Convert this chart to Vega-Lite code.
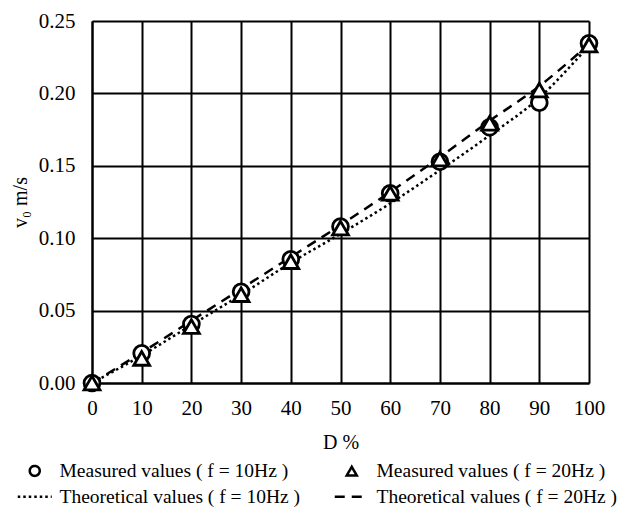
{
  "$schema": "https://vega.github.io/schema/vega-lite/v6.json",
  "width": 497,
  "height": 362,
  "autosize": {"type": "none"},
  "padding": {"left": 92, "top": 21, "right": 47, "bottom": 128},
  "background": "white",
  "config": {
    "font": "Liberation Serif",
    "view": {"stroke": null},
    "axis": {
      "domainColor": "black",
      "domainWidth": 2,
      "grid": true,
      "gridColor": "black",
      "gridWidth": 2,
      "gridOpacity": 1,
      "ticks": false,
      "labelFlush": false,
      "labelFont": "Liberation Serif",
      "labelFontSize": 21,
      "labelColor": "black",
      "titleFont": "Liberation Serif",
      "titleFontSize": 20,
      "titleFontWeight": "normal",
      "titleColor": "black"
    },
    "legend": {
      "orient": "none",
      "legendX": -67,
      "legendY": 440,
      "direction": "horizontal",
      "columns": 2,
      "columnPadding": 28,
      "rowPadding": 5,
      "labelFont": "Liberation Serif",
      "labelFontSize": 19.5,
      "labelColor": "black",
      "labelOffset": 15,
      "labelLimit": 400,
      "symbolSize": 100,
      "symbolStrokeWidth": 2.5,
      "symbolStrokeColor": "black",
      "symbolFillColor": "white"
    }
  },
  "datasets": {
    "measured": [
      {"D": 0, "v": 0.0, "series": "Measured values ( f = 10Hz )"},
      {"D": 10, "v": 0.0205, "series": "Measured values ( f = 10Hz )"},
      {"D": 20, "v": 0.0407, "series": "Measured values ( f = 10Hz )"},
      {"D": 30, "v": 0.063, "series": "Measured values ( f = 10Hz )"},
      {"D": 40, "v": 0.0854, "series": "Measured values ( f = 10Hz )"},
      {"D": 50, "v": 0.108, "series": "Measured values ( f = 10Hz )"},
      {"D": 60, "v": 0.131, "series": "Measured values ( f = 10Hz )"},
      {"D": 70, "v": 0.1528, "series": "Measured values ( f = 10Hz )"},
      {"D": 80, "v": 0.1766, "series": "Measured values ( f = 10Hz )"},
      {"D": 90, "v": 0.1936, "series": "Measured values ( f = 10Hz )"},
      {"D": 100, "v": 0.2346, "series": "Measured values ( f = 10Hz )"},
      {"D": 0, "v": 0.0, "series": "Measured values ( f = 20Hz )"},
      {"D": 10, "v": 0.017, "series": "Measured values ( f = 20Hz )"},
      {"D": 20, "v": 0.039, "series": "Measured values ( f = 20Hz )"},
      {"D": 30, "v": 0.061, "series": "Measured values ( f = 20Hz )"},
      {"D": 40, "v": 0.0838, "series": "Measured values ( f = 20Hz )"},
      {"D": 50, "v": 0.107, "series": "Measured values ( f = 20Hz )"},
      {"D": 60, "v": 0.131, "series": "Measured values ( f = 20Hz )"},
      {"D": 70, "v": 0.1547, "series": "Measured values ( f = 20Hz )"},
      {"D": 80, "v": 0.1793, "series": "Measured values ( f = 20Hz )"},
      {"D": 90, "v": 0.2023, "series": "Measured values ( f = 20Hz )"},
      {"D": 100, "v": 0.2334, "series": "Measured values ( f = 20Hz )"}
    ],
    "theory": [
      {"D": 0, "v": 0.0, "series": "Theoretical values ( f = 10Hz )"},
      {"D": 10, "v": 0.019, "series": "Theoretical values ( f = 10Hz )"},
      {"D": 20, "v": 0.040, "series": "Theoretical values ( f = 10Hz )"},
      {"D": 30, "v": 0.061, "series": "Theoretical values ( f = 10Hz )"},
      {"D": 40, "v": 0.083, "series": "Theoretical values ( f = 10Hz )"},
      {"D": 50, "v": 0.103, "series": "Theoretical values ( f = 10Hz )"},
      {"D": 60, "v": 0.124, "series": "Theoretical values ( f = 10Hz )"},
      {"D": 70, "v": 0.147, "series": "Theoretical values ( f = 10Hz )"},
      {"D": 80, "v": 0.171, "series": "Theoretical values ( f = 10Hz )"},
      {"D": 90, "v": 0.197, "series": "Theoretical values ( f = 10Hz )"},
      {"D": 100, "v": 0.233, "series": "Theoretical values ( f = 10Hz )"},
      {"D": 0, "v": 0.0, "series": "Theoretical values ( f = 20Hz )"},
      {"D": 10, "v": 0.021, "series": "Theoretical values ( f = 20Hz )"},
      {"D": 20, "v": 0.043, "series": "Theoretical values ( f = 20Hz )"},
      {"D": 30, "v": 0.065, "series": "Theoretical values ( f = 20Hz )"},
      {"D": 40, "v": 0.087, "series": "Theoretical values ( f = 20Hz )"},
      {"D": 50, "v": 0.109, "series": "Theoretical values ( f = 20Hz )"},
      {"D": 60, "v": 0.132, "series": "Theoretical values ( f = 20Hz )"},
      {"D": 70, "v": 0.156, "series": "Theoretical values ( f = 20Hz )"},
      {"D": 80, "v": 0.181, "series": "Theoretical values ( f = 20Hz )"},
      {"D": 90, "v": 0.205, "series": "Theoretical values ( f = 20Hz )"},
      {"D": 100, "v": 0.234, "series": "Theoretical values ( f = 20Hz )"}
    ]
  },
  "layer": [
    {
      "data": {"name": "theory"},
      "mark": {"type": "line", "color": "black", "strokeWidth": 2.5, "interpolate": "monotone"},
      "encoding": {
        "x": {
          "field": "D",
          "type": "quantitative",
          "scale": {"domain": [0, 100], "nice": false},
          "axis": {"values": [0, 10, 20, 30, 40, 50, 60, 70, 80, 90, 100], "title": "D %", "labelPadding": 14, "titlePadding": 14}
        },
        "y": {
          "field": "v",
          "type": "quantitative",
          "scale": {"domain": [0, 0.25], "nice": false},
          "axis": {"values": [0, 0.05, 0.1, 0.15, 0.2, 0.25], "format": ".2f", "title": "v₀ m/s", "labelPadding": 17, "titlePadding": 8}
        },
        "strokeDash": {
          "field": "series",
          "type": "nominal",
          "scale": {
            "domain": ["Measured values ( f = 10Hz )", "Measured values ( f = 20Hz )", "Theoretical values ( f = 10Hz )", "Theoretical values ( f = 20Hz )"],
            "range": [[1, 0], [1, 0], [2.5, 3], [10, 7]]
          },
          "legend": {
            "title": null,
            "encode": {"symbols": {"update": {"stroke": {"value": "black"}, "fill": {"value": "white"}, "strokeWidth": {"value": 2.5}, "opacity": {"value": 1}}}}
          }
        }
      }
    },
    {
      "data": {"name": "measured"},
      "mark": {"type": "point", "filled": true, "fill": "white", "stroke": "black", "strokeWidth": 2.8, "size": 250, "opacity": 1},
      "encoding": {
        "x": {"field": "D", "type": "quantitative"},
        "y": {"field": "v", "type": "quantitative"},
        "shape": {
          "field": "series",
          "type": "nominal",
          "scale": {
            "domain": ["Measured values ( f = 10Hz )", "Measured values ( f = 20Hz )", "Theoretical values ( f = 10Hz )", "Theoretical values ( f = 20Hz )"],
            "range": ["circle", "triangle-up", "M-3.4,0H3.4", "M-3.4,0H3.4"]
          },
          "legend": {
            "title": null,
            "encode": {"symbols": {"update": {"stroke": {"value": "black"}, "fill": {"value": "white"}, "strokeWidth": {"value": 2.5}, "opacity": {"value": 1}}}}
          }
        }
      }
    }
  ]
}
